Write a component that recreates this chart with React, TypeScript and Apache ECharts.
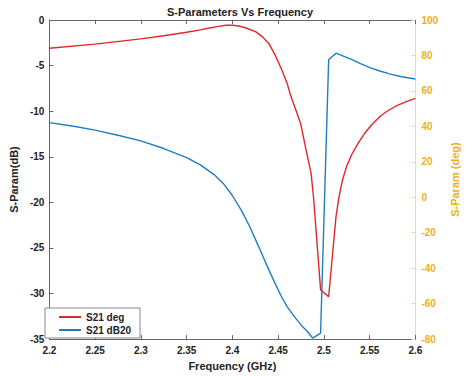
import React, { useEffect, useRef } from "react";
import * as echarts from "echarts";

const freqDeg = [2.2, 2.25, 2.3, 2.325, 2.35, 2.365, 2.375, 2.385, 2.393, 2.4, 2.407, 2.415, 2.4257, 2.433, 2.44, 2.447, 2.4537, 2.46, 2.464, 2.4695, 2.4747, 2.48, 2.486, 2.4887, 2.4964, 2.5052, 2.5132, 2.5165, 2.5202, 2.525, 2.5307, 2.5375, 2.5447, 2.553, 2.5622, 2.5707, 2.5797, 2.59, 2.6];
const s21deg = [-3.1, -2.65, -2.07, -1.73, -1.35, -1.08, -0.88, -0.7, -0.58, -0.57, -0.66, -0.88, -1.3, -1.85, -2.6, -3.9, -5.4, -7.0, -8.4, -9.9, -11.4, -14.0, -16.8, -19.5, -29.6, -30.35, -21.6, -19.4, -17.6, -16.0, -14.7, -13.5, -12.4, -11.4, -10.5, -9.9, -9.4, -8.95, -8.6];

const freqDb = [2.2, 2.225, 2.25, 2.275, 2.3, 2.325, 2.35, 2.365, 2.38, 2.39, 2.4, 2.41, 2.418, 2.4257, 2.433, 2.44, 2.447, 2.4537, 2.46, 2.4677, 2.475, 2.482, 2.4877, 2.4964, 2.5052, 2.5132, 2.52, 2.5307, 2.54, 2.5517, 2.562, 2.5727, 2.585, 2.6];
const s21db20 = [42.1, 40.2, 37.9, 35.0, 31.8, 27.5, 22.4, 18.3, 12.8, 7.8, 1.0, -7.5, -15.5, -24.3, -32.8, -41.1, -49.0, -56.1, -61.8, -67.3, -72.0, -75.7, -79.4, -76.6, 77.6, 81.3, 79.9, 77.6, 75.4, 72.9, 71.1, 69.5, 68.0, 66.7];

const xTicks = { min: 2.2, max: 2.6, interval: 0.05 };
const leftTicks = { min: -35, max: 0, interval: 5 };
const rightTicks = { min: -80, max: 100, interval: 20 };

const GOLD = "#EDB120";
const FONT = "Liberation Sans";

export default function App() {
  const ref = useRef<HTMLDivElement>(null);
  useEffect(() => {
    const chart = echarts.init(ref.current!, null, { renderer: "svg" });
    const fmtX = (v: number) => String(parseFloat(v.toFixed(2)));
    chart.setOption({
      animation: false,
      backgroundColor: "#fff",
      title: {
        text: "S-Parameters Vs Frequency",
        left: 235,
        textAlign: "center",
        top: 1,
        textStyle: { fontFamily: FONT, fontSize: 11, fontWeight: "bold", color: "#222" },
      },
      grid: { left: 45, right: 42, top: 20, bottom: 35, containLabel: false },
      legend: {
        left: 45,
        top: 308,
        orient: "vertical",
        backgroundColor: "#fff",
        borderColor: "#888",
        borderWidth: 1,
        padding: [4, 9, 3, 14],
        itemGap: 3,
        itemWidth: 22,
        itemHeight: 2,
        icon: "rect",
        textStyle: { fontFamily: FONT, fontSize: 10, fontWeight: "bold", color: "#222" },
        data: ["S21 deg", "S21 dB20"],
      },
      xAxis: [
        {
          type: "value",
          min: xTicks.min,
          max: xTicks.max,
          interval: xTicks.interval,
          name: "Frequency (GHz)",
          nameLocation: "middle",
          nameGap: 20,
          nameTextStyle: { fontFamily: FONT, fontSize: 11, fontWeight: "bold", color: "#222" },
          axisLine: { onZero: false, lineStyle: { color: "#666" } },
          axisTick: { inside: true, length: 4, lineStyle: { color: "#666" } },
          axisLabel: { formatter: fmtX, fontFamily: FONT, fontSize: 10, fontWeight: "bold", color: "#222", margin: 6 },
          splitLine: { show: false },
        },
        {
          type: "value",
          position: "top",
          min: xTicks.min,
          max: xTicks.max,
          interval: xTicks.interval,
          axisLine: { onZero: false, lineStyle: { color: "#666" } },
          axisTick: { inside: true, length: 4, lineStyle: { color: "#666" } },
          axisLabel: { show: false },
          splitLine: { show: false },
        },
      ],
      yAxis: [
        {
          type: "value",
          min: leftTicks.min,
          max: leftTicks.max,
          interval: leftTicks.interval,
          name: "S-Param(dB)",
          nameLocation: "middle",
          nameRotate: 90,
          nameGap: 19,
          nameTextStyle: { fontFamily: FONT, fontSize: 11, fontWeight: "bold", color: "#222" },
          axisLine: { show: true, onZero: false, lineStyle: { color: "#666" } },
          axisTick: { show: true, inside: true, length: 4, lineStyle: { color: "#666" } },
          axisLabel: { fontFamily: FONT, fontSize: 10, fontWeight: "bold", color: "#222", margin: 5 },
          splitLine: { show: false },
        },
        {
          type: "value",
          position: "right",
          min: rightTicks.min,
          max: rightTicks.max,
          interval: rightTicks.interval,
          name: "S-Param (deg)",
          nameLocation: "middle",
          nameRotate: 90,
          nameGap: 30,
          nameTextStyle: { fontFamily: FONT, fontSize: 11, fontWeight: "bold", color: GOLD },
          axisLine: { show: true, onZero: false, lineStyle: { color: "#F3DB9A" } },
          axisTick: { show: true, inside: true, length: 4, lineStyle: { color: "#F3DB9A" } },
          axisLabel: { fontFamily: FONT, fontSize: 10, fontWeight: "bold", color: GOLD, margin: 6 },
          splitLine: { show: false },
        },
      ],
      series: [
        {
          name: "S21 deg",
          type: "line",
          xAxisIndex: 0,
          yAxisIndex: 0,
          showSymbol: false,
          symbol: "none",
          lineStyle: { color: "#E3262A", width: 1.4 },
          itemStyle: { color: "#E3262A" },
          data: freqDeg.map((f, i) => [f, s21deg[i]]),
        },
        {
          name: "S21 dB20",
          type: "line",
          xAxisIndex: 0,
          yAxisIndex: 1,
          showSymbol: false,
          symbol: "none",
          lineStyle: { color: "#1F7EC2", width: 1.4 },
          itemStyle: { color: "#1F7EC2" },
          data: freqDb.map((f, i) => [f, s21db20[i]]),
        },
      ],
    });
    return () => chart.dispose();
  }, []);
  return <div ref={ref} style={{ width: 468, height: 376, position: "absolute", left: 0, top: 0 }} />;
}
